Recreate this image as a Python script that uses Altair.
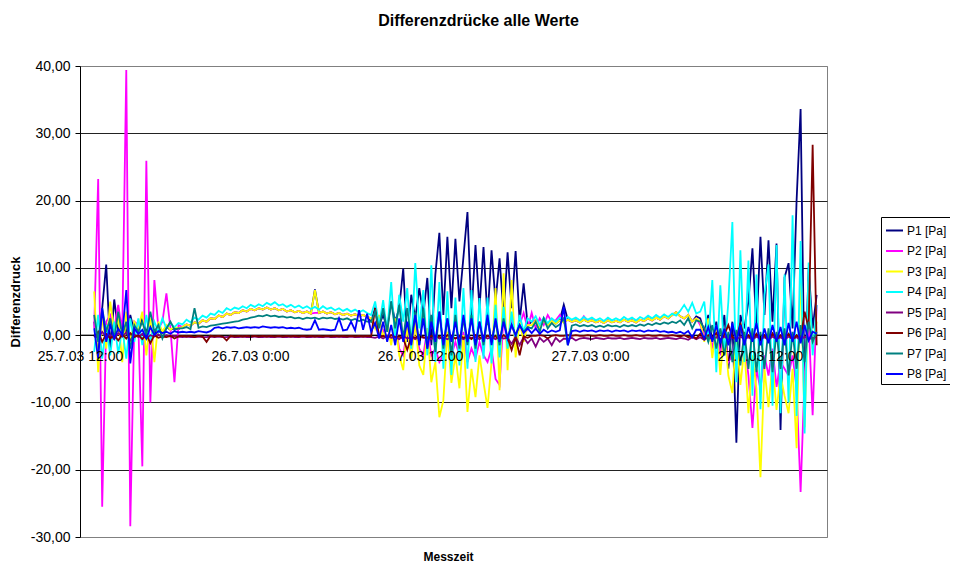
import altair as alt
import pandas as pd

# ---- series names, colours, axis ticks ----
SERIES = ["P1 [Pa]", "P2 [Pa]", "P3 [Pa]", "P4 [Pa]", "P5 [Pa]", "P6 [Pa]", "P7 [Pa]", "P8 [Pa]"]
COLORS = ["#000080", "#FF00FF", "#FFFF00", "#00FFFF", "#800080", "#800000", "#008080", "#0000FF"]
TICK_HOURS = [0, 12, 24, 36, 48]          # hours after 25.7.03 12:00
TICK_LABELS = ["25.7.03 12:00", "26.7.03 0:00", "26.7.03 12:00", "27.7.03 0:00", "27.7.03 12:00"]
Y_TICKS = [-30, -20, -10, 0, 10, 20, 30, 40]

# sampling of the measurement: first sample at 13:00, one sample every 17 minutes
START_H = 1.0
STEP_H = 17.0 / 60.0

P1 = [2.0, -3.0, 4.0, 10.5, -2.0, 5.3, 0.5, 2.0, 0.3, 3.0,
      0.5, 1.0, 2.5, 0.5, 1.5, 0.2, 1.0, 0.5, 1.2, 0.8,
      1.0, 0.9, 1.2, 1.6, 1.4, 1.9, 1.7, 2.2, 2.0, 2.5,
      2.4, 2.9, 2.7, 3.2, 3.0, 3.4, 3.3, 3.7, 3.5, 3.9,
      3.7, 4.0, 3.8, 4.1, 3.8, 4.0, 3.7, 3.9, 3.5, 3.7,
      3.4, 3.6, 3.3, 3.5, 3.2, 6.8, 3.3, 3.5, 3.2, 3.4,
      3.1, 3.3, 3.0, 3.2, 2.9, 3.1, 2.8, 3.0, 2.7, 2.0,
      4.0, 1.5, 3.0, 1.0, 5.0, 2.0, 4.0, 9.9, -1.0, 6.0,
      2.5, 7.0, 3.0, 8.5, -1.5, 9.0, 15.2, 3.0, 14.6, 4.0,
      14.3, 5.0, 11.6, 18.3, 3.0, 13.4, 4.0, 13.1, 2.5, 12.6,
      5.0, 11.4, 3.0, 12.3, 4.0, 12.5, 2.0, 7.7, 1.5, 2.0,
      2.2, 1.2, 2.1, 1.5, 2.1, 1.7, 2.2, 4.5, 2.3, 2.0,
      2.2, 1.9, 2.3, 2.0, 2.2, 1.9, 2.1, 1.8, 2.2, 1.9,
      2.1, 1.9, 2.3, 2.0, 2.2, 1.9, 2.3, 2.1, 2.5, 2.2,
      2.6, 2.3, 2.8, 2.5, 3.0, 3.4, 2.8, 2.5, 3.0, 2.0,
      2.8, 2.5, 0.5, 3.0, -1.0, 2.0, -2.0, 3.0, -5.0, 2.0,
      -16.0, 3.0, 1.0, 5.0, 12.9, 1.0, 14.6, 3.0, 14.1, 2.0,
      13.6, -14.1, 8.6, 10.7, 1.0, 20.0, 33.6, -8.6, 10.0, 1.0,
      6.0]

P2 = [1.0, 23.2, -25.5, 2.0, 3.0, 1.0, 4.5, 0.5, 39.4, -28.4,
      2.0, 1.5, -19.5, 25.9, -10.0, 8.2, 1.0, 2.0, 6.2, 1.0,
      -7.0, 1.5, 1.2, 1.6, 1.4, 1.9, 1.7, 2.2, 2.0, 2.5,
      2.4, 2.9, 2.7, 3.2, 3.0, 3.4, 3.3, 3.7, 3.5, 3.9,
      3.7, 4.0, 3.8, 4.1, 3.8, 4.0, 3.7, 3.9, 3.5, 3.7,
      3.4, 3.6, 3.3, 3.5, 3.2, 3.3, 3.3, 3.5, 3.2, 3.4,
      3.1, 3.3, 3.0, 3.2, 2.9, 3.1, 2.8, 3.0, 2.7, 2.5,
      1.5, 2.0, 0.5, 1.5, -1.0, 2.0, -2.0, -3.0, 1.0, -2.0,
      1.5, -2.0, -3.0, 1.0, -3.0, -2.0, -4.0, -3.0, 0.5, -3.0,
      -1.0, -3.0, 0.5, -4.0, -2.0, -3.5, -1.0, -3.0, -4.0, -2.0,
      -6.5, -7.4, 3.0, -2.0, 2.5, -1.0, 1.5, 3.3, 1.0, 3.3,
      1.0, 2.5, 1.5, 3.0, 2.0, 2.2, 3.0, 1.9, 2.3, 2.0,
      2.2, 1.9, 2.8, 2.0, 2.2, 1.9, 2.1, 1.8, 2.2, 1.9,
      2.1, 1.9, 2.3, 2.0, 2.2, 1.9, 2.3, 2.1, 2.5, 2.2,
      2.6, 2.3, 2.8, 2.5, 3.0, 3.4, 2.8, 2.5, 3.0, 2.0,
      2.5, 1.5, 0.0, 2.0, -2.0, 1.0, -3.0, 0.5, -4.0, -3.0,
      0.0, -4.0, -1.0, -6.0, -13.8, -5.0, -8.0, -3.0, -6.0, -2.0,
      -7.7, -4.0, -5.0, -6.0, -3.0, -8.0, -23.3, -6.0, 2.0, -11.9,
      4.5]

P3 = [6.5, -5.5, 3.0, -2.0, 5.0, 0.5, 2.5, -4.0, 3.5, -1.0,
      2.0, 1.0, 3.5, -3.0, 2.5, -4.0, 2.0, 0.5, 1.5, 0.8,
      1.2, 1.0, 1.2, 1.6, 1.4, 1.9, 1.7, 2.2, 2.0, 2.5,
      2.4, 2.9, 2.7, 3.2, 3.0, 3.4, 3.3, 3.7, 3.5, 3.9,
      3.7, 4.0, 3.8, 4.1, 3.8, 4.0, 3.7, 3.9, 3.5, 3.7,
      3.4, 3.6, 3.3, 3.5, 3.2, 6.7, 3.3, 3.5, 3.2, 3.4,
      3.1, 3.3, 3.0, 3.2, 2.9, 3.1, 2.8, 3.0, 2.7, 2.5,
      1.0, 3.0, -0.5, 2.0, -1.5, 2.5, -3.0, -5.2, 1.5, -3.5,
      2.0, -4.5, -5.9, 1.0, -7.0, -4.0, -12.2, -9.7, 0.5, -7.1,
      -3.0, -7.9, 0.0, -11.4, -5.0, -9.2, -3.0, -7.0, -10.8, -4.0,
      7.0, -8.2, 9.2, -5.2, 8.2, -3.3, 2.0, -1.0, 1.5, 1.5,
      2.2, 1.2, 2.1, 1.5, 2.1, 1.7, 2.2, 1.9, 2.3, 2.0,
      2.2, 1.9, 2.3, 2.0, 2.2, 1.9, 2.1, 1.8, 2.2, 1.9,
      2.1, 1.9, 2.3, 2.0, 2.2, 1.9, 2.3, 2.1, 2.5, 2.2,
      2.6, 2.3, 2.8, 2.5, 3.0, 3.4, 2.8, 2.5, 3.0, 2.0,
      2.5, 2.0, -1.0, 2.5, -3.4, 1.5, -5.9, 1.0, -6.0, -8.6,
      0.5, -7.4, -2.0, -11.6, -3.0, -8.0, -21.1, -5.0, -10.7, -4.0,
      -11.1, -6.0, -9.0, -11.6, -5.0, -16.8, 10.7, -13.7, 8.0, -2.0,
      2.0]

P4 = [-2.5, 3.0, -3.5, 1.5, -3.0, 2.0, -2.8, 1.0, -3.5, 2.5,
      -1.0, 2.5, -1.5, 3.0, -1.0, 2.0, 0.5, 2.5, 1.0, 1.8,
      1.2, 1.8, 1.6, 2.3, 1.9, 2.6, 2.3, 2.9, 2.6, 3.2,
      3.0, 3.6, 3.3, 4.0, 3.7, 4.1, 3.9, 4.3, 4.0, 4.5,
      4.2, 4.6, 4.3, 4.8, 4.5, 4.9, 4.4, 4.6, 4.2, 4.5,
      4.1, 4.4, 4.0, 4.3, 3.9, 4.2, 3.8, 4.3, 3.9, 4.1,
      3.7, 4.0, 3.6, 3.9, 3.5, 3.8, 3.4, 3.7, 3.3, 3.0,
      5.0, 1.5, 5.2, 0.5, 7.9, -1.0, 6.0, 2.0, 7.0, -2.0,
      10.7, 1.0, 6.7, -3.0, 10.4, -4.0, 7.9, -5.0, 6.5, -5.9,
      5.6, -4.5, 7.0, -5.0, 6.7, -4.0, 5.5, -3.5, 5.6, -4.2,
      4.5, -3.3, 4.2, -2.0, 3.5, -1.0, 3.0, 0.5, 2.5, 2.0,
      2.8, 1.5, 2.6, 1.8, 2.5, 2.0, 2.6, 2.2, 2.7, 2.3,
      2.6, 2.2, 2.7, 2.3, 2.6, 2.2, 2.5, 2.1, 2.6, 2.2,
      2.5, 2.2, 2.7, 2.3, 2.6, 2.2, 2.7, 2.4, 2.9, 2.5,
      3.0, 2.6, 3.1, 2.7, 3.2, 2.9, 3.6, 4.5, 3.5, 4.8,
      3.2, 3.5, 5.0, -1.0, 8.2, -5.5, 7.4, -3.0, 5.0, 16.8,
      -7.0, 12.6, -4.0, 11.1, -9.0, 9.0, -11.0, 6.0, 10.5, -10.5,
      13.4, -11.6, 9.0, -10.0, 17.8, -12.0, 14.0, -14.6, 10.8, -3.0,
      4.5]

P5 = [0.2, -0.5, 0.5, -0.3, 0.0, -0.6, 0.3, -0.2, 0.4, -0.8,
      0.1, -0.3, 0.2, -0.5, 0.0, -0.2, 0.1, -0.3, 0.0, -0.2,
      -0.1, -0.2, -0.3, -0.2, -0.3, -0.3, -0.2, -0.3, -0.3, -0.2,
      -0.3, -0.2, -0.3, -0.3, -0.2, -0.3, -0.3, -0.2, -0.3, -0.3,
      -0.2, -0.3, -0.3, -0.2, -0.3, -0.3, -0.2, -0.3, -0.3, -0.2,
      -0.3, -0.3, -0.2, -0.3, -0.3, -0.2, -0.3, -0.3, -0.2, -0.3,
      -0.3, -0.2, -0.3, -0.3, -0.2, -0.3, -0.3, -0.2, -0.3, -0.3,
      -0.4, -0.2, -0.5, -0.1, -0.4, -0.3, -0.6, -0.1, -0.5, -0.3,
      -0.6, -0.2, -0.4, -0.3, -0.6, -0.1, -0.5, -0.3, -0.6, -0.2,
      -0.5, -0.3, -0.6, -0.2, -0.4, -0.3, -0.6, -0.2, -0.5, -0.3,
      -0.6, -0.2, -0.5, -0.4, -1.3, -0.2, -1.5, -0.3, -1.2, -0.5,
      -1.7, -0.4, -1.0, -0.5, -1.5, -0.4, -1.0, -0.5, -0.6, -0.4,
      -0.8, -0.5, -0.4, -0.5, -0.6, -0.4, -0.5, -0.6, -0.4, -0.5,
      -0.5, -0.4, -0.6, -0.5, -0.4, -0.5, -0.6, -0.4, -0.5, -0.5,
      -0.4, -0.6, -0.5, -0.4, -0.5, -0.6, -0.4, -0.5, -0.7, -0.3,
      -0.6, -0.3, -0.7, -0.2, -0.6, -0.3, -0.7, -0.2, -0.6, -0.3,
      -0.7, -0.2, -0.6, -0.3, -0.7, -0.2, -0.6, -0.3, -0.7, -0.2,
      -0.6, -0.3, -0.7, -0.2, -0.6, -0.3, -0.8, -0.2, -0.6, -0.4,
      -0.3]

P6 = [-0.3, 0.5, -1.0, 0.2, -0.5, 0.0, -0.8, 0.1, -0.5, 0.3,
      -0.3, 0.0, -0.6, 0.1, -1.2, 0.0, -0.4, -0.2, -0.3, -0.1,
      -0.5, -0.2, -0.1, -0.2, -0.1, -0.3, -0.1, -0.2, -1.0, -0.1,
      -0.2, -0.1, -0.2, -0.8, -0.1, -0.2, -0.1, -0.2, -0.1, -0.2,
      -0.1, -0.2, -0.1, -0.2, -0.1, -0.2, -0.1, -0.2, -0.1, -0.2,
      -0.1, -0.2, -0.1, -0.2, -0.1, -0.2, -0.1, -0.2, -0.1, -0.2,
      -0.1, -0.2, -0.1, -0.2, -0.1, -0.2, -0.1, -0.2, -0.1, -0.2,
      4.0, -0.3, -0.1, -0.4, 0.0, -0.3, -0.2, -0.5, -2.2, -0.2,
      -0.4, 0.0, -0.3, -0.5, -0.1, -0.4, -0.2, -0.6, 0.0, -0.3,
      -0.5, -0.1, -0.4, -0.2, -0.6, 0.0, -0.3, -0.5, -0.1, -0.4,
      -0.2, -0.6, 0.0, -0.4, -2.2, -0.3, -3.0, -0.2, -0.4, -0.1,
      -0.1, 0.0, -0.1, -0.5, -0.1, 0.0, -0.1, -0.1, 0.0, -0.1,
      0.0, -0.1, -0.1, 0.0, -0.1, -0.1, 0.0, -0.1, -0.1, 0.0,
      -0.1, -0.1, 0.0, -0.1, -0.1, 0.0, -0.1, -0.1, 0.0, -0.1,
      -0.1, 0.0, -0.1, -0.1, 0.0, -0.1, -0.2, 0.0, -0.3, -0.1,
      -0.5, 0.2, -0.6, 0.0, -0.4, 0.3, -0.8, 0.1, 1.5, -0.3,
      -0.6, 1.8, -0.5, 0.0, -0.7, 0.2, -0.5, 0.0, -0.8, 0.3,
      -0.6, 0.0, -0.5, 0.2, -0.7, 0.0, -0.6, 3.5, 1.0, 28.3,
      -1.5]

P7 = [3.0, -1.0, 4.0, 0.5, 2.5, -0.5, 3.5, 0.0, 2.0, -2.0,
      1.5, 0.5, 2.0, 0.0, 3.5, 0.5, 1.5, -0.5, 1.0, 2.0,
      0.8, 1.0, 1.0, 1.2, 0.9, 4.0, 1.1, 1.3, 1.2, 1.4,
      1.5, 1.6, 1.7, 1.8, 1.9, 2.0, 2.1, 2.3, 2.4, 2.6,
      2.7, 2.9, 2.8, 3.0, 2.8, 2.9, 2.7, 2.8, 2.6, 2.7,
      2.5, 2.6, 2.4, 2.6, 2.5, 2.6, 2.4, 2.6, 2.5, 2.6,
      2.4, 2.5, 2.3, 2.5, 2.2, 2.4, 2.1, 2.3, 2.0, 2.0,
      3.5, 1.0, 4.0, 0.5, 5.0, 1.0, 4.5, -0.5, 4.0, -1.0,
      3.5, -1.5, 4.0, -2.0, 3.0, -2.5, 3.5, -2.0, 2.5, -3.0,
      3.0, -2.0, 2.5, -1.5, 3.0, -2.0, 2.0, -1.5, 2.5, -1.0,
      2.0, -1.5, 2.5, -0.5, 1.5, 0.0, 1.5, 0.5, 1.2, 1.0,
      2.0, 0.5, 2.5, 1.0, 1.8, 1.2, 1.6, 2.5, -1.5, 1.4,
      1.6, 1.3, 1.5, 1.3, 1.5, 1.2, 1.4, 1.2, 1.5, 1.3,
      1.4, 1.2, 1.5, 1.3, 1.5, 1.3, 1.6, 1.4, 1.7, 1.5,
      1.8, 1.6, 1.9, 1.7, 2.0, 1.8, 2.2, 1.5, 2.5, 1.0,
      2.2, 2.0, 1.0, -1.0, 1.5, -2.0, 1.0, -3.0, 0.5, -4.0,
      0.8, -4.5, 0.5, -5.0, 1.0, -5.5, 0.5, -5.0, 1.0, -5.5,
      0.5, -5.0, 1.0, -6.0, 0.5, -5.0, 1.5, -4.0, 2.0, -1.0,
      0.5]

P8 = [1.0, -3.5, 4.0, -1.0, 1.5, -0.5, 1.0, 0.0, 6.7, -4.2,
      1.0, 0.2, 0.8, -0.5, 1.2, 0.0, 0.6, 0.3, 0.5, 0.2,
      0.6, 0.4, 0.5, 0.4, 0.5, 0.4, 0.6, 0.5, 0.4, 0.6,
      1.1, 1.2, 1.0, 1.2, 1.1, 1.2, 1.0, 1.1, 1.2, 1.1,
      1.2, 1.1, 1.3, 1.2, 1.1, 1.2, 1.1, 1.2, 1.0, 1.1,
      1.0, 1.1, 0.9, 0.8, 0.9, 2.2, 0.8, 0.9, 0.8, 0.7,
      0.8, 2.5, 0.7, 0.8, 2.0, 0.7, 3.7, 0.8, 3.2, 0.5,
      1.8, -0.5, 2.0, -1.0, 1.5, -1.5, 2.5, -1.0, 2.0, -1.5,
      3.0, -1.5, 2.5, -2.0, 2.0, -1.0, 3.5, -1.5, 2.5, -1.0,
      2.0, -1.5, 3.0, -1.0, 2.5, -1.5, 2.0, -1.0, 3.0, -1.5,
      2.5, -1.0, 2.0, -0.5, 1.5, 0.0, 1.5, 0.3, 1.0, 0.3,
      1.0, 0.2, 0.8, 0.4, 0.7, 0.5, 0.7, 4.2, -1.5, 0.6,
      0.7, 0.5, 0.7, 0.6, 0.7, 0.5, 0.7, 0.6, 0.7, 0.5,
      0.7, 0.6, 0.7, 0.5, 0.7, 0.6, 0.7, 0.5, 0.7, 0.6,
      0.7, 0.5, 0.6, 0.4, 0.5, 0.3, 0.5, 0.2, 0.6, -0.3,
      0.8, 0.8, -0.5, 1.2, -1.0, 1.5, -1.2, 1.0, -1.5, 1.8,
      -1.0, 1.5, -1.5, 1.2, -1.0, 1.8, -1.5, 1.0, -1.2, 1.5,
      -1.0, 1.2, -1.5, 1.8, -1.0, 2.0, -1.2, 1.5, -0.8, 0.5,
      0.2]

VALUES = [P1, P2, P3, P4, P5, P6, P7, P8]
for name, vals in zip(SERIES, VALUES):
    assert len(vals) == 181, (name, len(vals))

rows = []
for name, vals in zip(SERIES, VALUES):
    for i, v in enumerate(vals):
        rows.append({"h": START_H + i * STEP_H, "v": v, "s": name})
df = pd.DataFrame(rows)

W, H = 747, 471
Y_MIN, Y_MAX = -30, 40
X_MAX = 52.73
zero_from_bottom = H * (0 - Y_MIN) / (Y_MAX - Y_MIN)

x_label_expr = "".join(f"datum.value == {h} ? '{lab}' : " for h, lab in zip(TICK_HOURS, TICK_LABELS)) + "''"
y_label_expr = "replace(replace(format(datum.value, '.2f'), '.', ','), '\u2212', '-')"

FONT = "Liberation Sans"

zero_rule = alt.Chart(pd.DataFrame({"z": [0]})).mark_rule(color="black", strokeWidth=1).encode(
    y=alt.datum(0)
)

lines = alt.Chart(df).mark_line(strokeWidth=1.8).encode(
    x=alt.X("h:Q",
            scale=alt.Scale(domain=[0, X_MAX], nice=False, zero=False),
            axis=alt.Axis(values=TICK_HOURS, labelExpr=x_label_expr, title="Messzeit",
                          titleFontSize=12, titleFontWeight="bold", titleColor="black",
                          titleX=368, titleY=216, titleBaseline="top", titleAlign="center",
                          offset=-zero_from_bottom, grid=False, domain=False,
                          tickColor="black", tickSize=5, labelFontSize=14, labelColor="black",
                          labelPadding=9, labelOverlap=False, labelFlush=False, zindex=1)),
    y=alt.Y("v:Q",
            scale=alt.Scale(domain=[Y_MIN, Y_MAX], nice=False, zero=False),
            axis=alt.Axis(values=Y_TICKS, labelExpr=y_label_expr, title="Differenzdruck",
                          titleFontSize=13, titleFontWeight="bold", titleColor="black",
                          titleX=-65, titleY=H / 2, titleAngle=270, titleAlign="center",
                          titleBaseline="middle",
                          grid=True,
                          gridColor={"condition": {"test": "datum.value == 40 || datum.value == -30",
                                                   "value": "#808080"}, "value": "#222222"},
                          domainColor="black", tickColor="black", tickSize=5,
                          labelFontSize=14, labelColor="black", labelPadding=5)),
    color=alt.Color("s:N",
                    scale=alt.Scale(domain=SERIES, range=COLORS),
                    legend=alt.Legend(title=None, orient="none", legendX=801, legendY=151,
                                      direction="vertical", symbolType="stroke",
                                      symbolStrokeWidth=2, symbolSize=289, labelFontSize=12,
                                      labelColor="black", rowPadding=4.5, padding=4,
                                      strokeColor="black", fillColor="white", labelOffset=3,
                                      labelLimit=200)),
)

chart = alt.layer(zero_rule, lines).properties(
    width=W, height=H,
    title=alt.Title("Differenzdrücke alle Werte", fontSize=16, fontWeight="bold", color="black",
                    anchor="middle", frame="group", dx=25, offset=30),
    autosize=alt.AutoSizeParams(type="none"),
    padding={"left": 72, "top": 58, "right": 123, "bottom": 28},
).configure(font=FONT).configure_view(stroke="#808080", strokeWidth=1)

chart.save("out.html", embed_options={"renderer": "svg", "actions": False})
